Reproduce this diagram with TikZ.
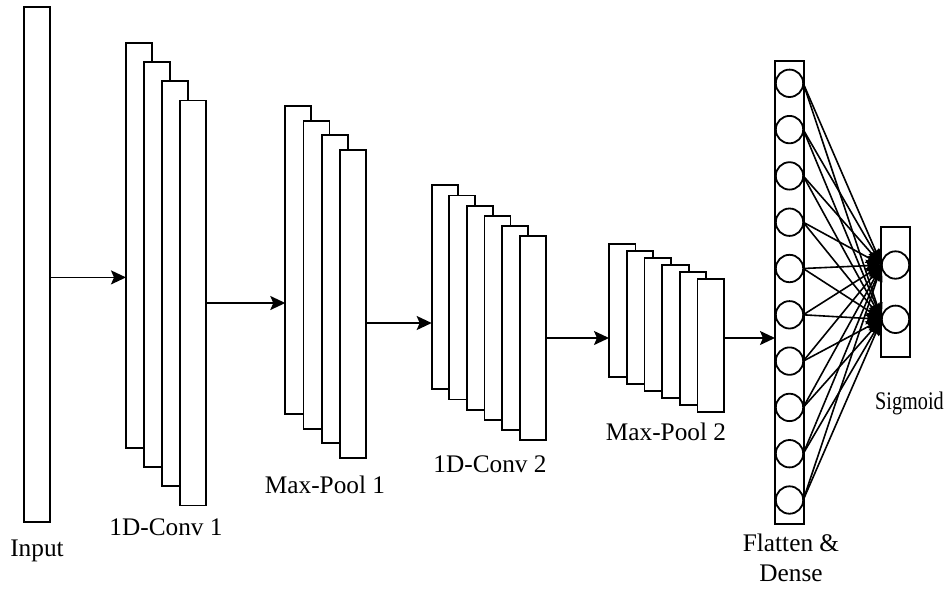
\documentclass[tikz,border=0pt]{standalone}
\usepackage{fontspec}
\setmainfont{Liberation Serif}
\usetikzlibrary{arrows.meta}
\begin{document}
\begin{tikzpicture}[x=1pt,y=-1pt,
  layerbox/.style={draw=black, fill=white, line width=1.8pt, inner sep=0pt, outer sep=0pt, anchor=north west},
  neuron/.style={circle, draw=black, fill=white, line width=1.8pt, minimum size=27.4pt, inner sep=0pt, outer sep=0pt},
  arr/.style={line width=1.8pt, -{Stealth[length=15pt,width=14pt,inset=3pt]}},
  conn/.style={line width=1.6pt, -{Stealth[length=16pt,width=12pt,inset=2pt]}},
  lbl/.style={font=\fontsize{25.3}{30.7}\selectfont, inner sep=0pt, anchor=base}]

\useasboundingbox (0,0) rectangle (945,590);

% Input
\node[layerbox, minimum width=26pt, minimum height=515pt] (inp) at (24,7) {};

% 1D-Conv 1
\foreach \k in {0,...,3}
  \node[layerbox, minimum width=26pt, minimum height=405pt] (ca\k) at ({126+18.1*\k},{43+19.15*\k}) {};

% Max-Pool 1
\foreach \k in {0,...,3}
  \node[layerbox, minimum width=26pt, minimum height=308pt] (pa\k) at ({285.3+18.2*\k},{106+14.67*\k}) {};

% 1D-Conv 2
\foreach \k in {0,...,5}
  \node[layerbox, minimum width=26pt, minimum height=204pt] (cb\k) at ({431.7+17.6*\k},{185.3+10.2*\k}) {};

% Max-Pool 2
\foreach \k in {0,...,5}
  \node[layerbox, minimum width=26.5pt, minimum height=132.4pt] (pb\k) at ({609+17.7*\k},{244.3+7*\k}) {};

% Flatten & Dense
\node[layerbox, minimum width=29pt, minimum height=463pt] (flat) at (775,61) {};
\foreach \k in {1,...,10}
  \node[neuron] (f\k) at (789.5,{83.3+46.3*(\k-1)}) {};

% Sigmoid
\node[layerbox, minimum width=29pt, minimum height=130pt] (sig) at (881,227) {};
\node[neuron] (s1) at (895.5,265) {};
\node[neuron] (s2) at (895.5,319.3) {};

% main arrows
\coordinate (ya) at (0,277.4);
\coordinate (yb) at (0,303);
\coordinate (yc) at (0,323);
\coordinate (yd) at (0,338);
\draw[arr] (inp.east |- ya) -- (ca0.west |- ya);
\draw[arr] (ca3.east |- yb) -- (pa0.west |- yb);
\draw[arr] (pa3.east |- yc) -- (cb0.west |- yc);
\draw[arr] (cb5.east |- yd) -- (pb0.west |- yd);
\draw[arr] (pb5.east |- yd) -- (flat.west |- yd);

% dense connections
\foreach \k in {1,...,10}
  \foreach \j in {1,2}
    \draw[conn] (f\k.east) -- (s\j.west);

% labels
\node[lbl] (linp) at (37,556) {Input};
\node[lbl] (lca) at (166,535) {1D-Conv 1};
\node[lbl] (lpa) at (325,493) {Max-Pool 1};
\node[lbl] (lcb) at (490,472) {1D-Conv 2};
\node[lbl] (lpb) at (666,440) {Max-Pool 2};
\node[lbl, align=center] (lfl) at (791,581.7) {Flatten \&\\Dense};
\node[lbl, anchor=base east] (lsig) at (944,409) {\scalebox{0.8}[1]{Sigmoid}};
\end{tikzpicture}
\end{document}
